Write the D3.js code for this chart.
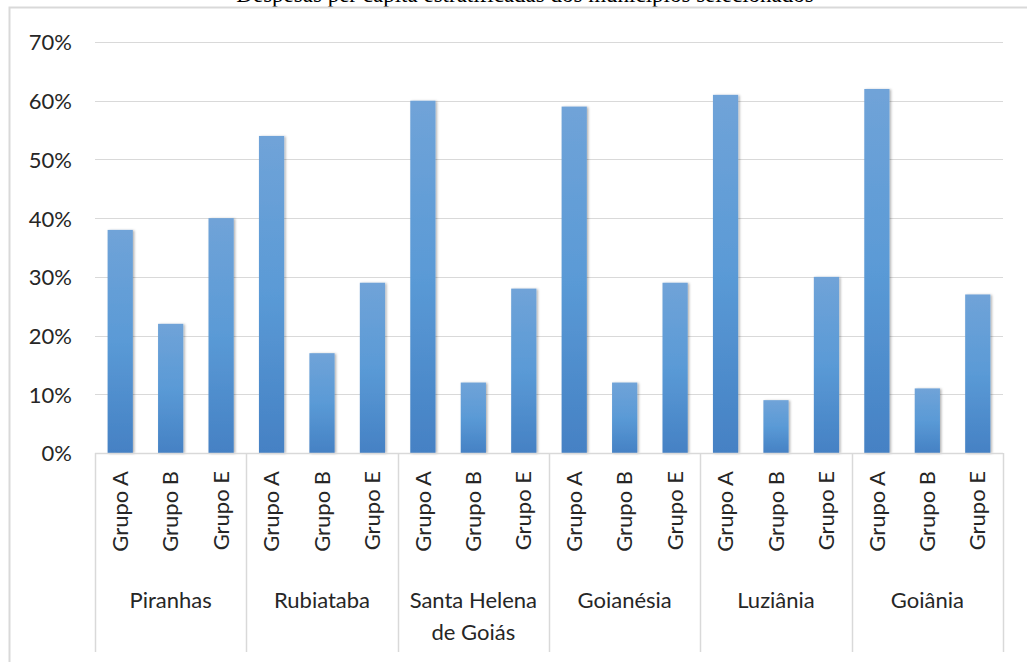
<!DOCTYPE html>
<html>
<head>
<meta charset="utf-8">
<script src="https://d3js.org/d3.v7.min.js"></script>
<style>
body, html {
    margin: 0;
    padding: 0;
    background: #fff;
    font-family: Lato, "Open Sans", sans-serif;
}
.grid line {
  stroke: #d9d9d9;
  stroke-width: 1;
}
.axis text {
  fill: #262626;
}
</style>
</head>
<body>
<div id="chart"></div>
<script>

// dados
var cities = ["Piranhas", "Rubiataba", "Santa Helena de Goiás", "Goianésia", "Luziânia", "Goiânia"];
var cityLines = [["Piranhas"], ["Rubiataba"], ["Santa Helena", "de Goiás"], ["Goianésia"], ["Luziânia"], ["Goiânia"]];
var groups = ["Grupo A", "Grupo B", "Grupo E"];
var grupoA = [0.38, 0.54, 0.60, 0.59, 0.61, 0.62];
var grupoB = [0.22, 0.17, 0.12, 0.12, 0.09, 0.11];
var grupoE = [0.40, 0.29, 0.28, 0.29, 0.30, 0.27];
var yTicks = [0, 0.1, 0.2, 0.3, 0.4, 0.5, 0.6, 0.7];
var titleText = "Despesas per capita estratificadas dos municípios selecionados";

var width = 1027,
    height = 662,
    margin = {top: 42, right: 24, bottom: 209, left: 95};

var svg = d3.select('#chart').append('svg')
  .attr('width', width)
  .attr('height', height);

// gradiente das barras
var defs = svg.append('defs');
var grad = defs.append('linearGradient')
  .attr('id', 'barGrad')
  .attr('x1', 0).attr('y1', 0).attr('x2', 0).attr('y2', 1);
grad.append('stop').attr('offset', '0%').attr('stop-color', '#70a3d8');
grad.append('stop').attr('offset', '50%').attr('stop-color', '#5a9ad6');
grad.append('stop').attr('offset', '100%').attr('stop-color', '#4581c4');

var shadow = defs.append('filter')
  .attr('id', 'shadow')
  .attr('x', '-20%').attr('y', '-5%').attr('width', '150%').attr('height', '110%');
shadow.append('feDropShadow')
  .attr('dx', 1.5).attr('dy', 0.5).attr('stdDeviation', 1.2)
  .attr('flood-color', '#000').attr('flood-opacity', 0.3);

// titulo cortado no topo (so a parte de baixo aparece, como na imagem)
svg.append('text')
  .attr('x', 525)
  .attr('y', 1.5)
  .attr('text-anchor', 'middle')
  .style('font-family', '"Liberation Serif", "Times New Roman", serif')
  .style('font-size', '23px')
  .style('fill', '#000')
  .text(titleText);

// moldura do grafico
svg.append('path')
  .attr('d', 'M9.5,' + height + 'V7.5H' + width)
  .attr('fill', 'none')
  .attr('stroke', '#d9d9d9')
  .attr('stroke-width', 2);

var x0 = d3.scaleBand()
  .domain(cities)
  .range([margin.left, width - margin.right]);

var x1 = d3.scaleBand()
  .domain(groups)
  .range([0, x0.bandwidth()])
  .paddingInner(0.5)
  .paddingOuter(0.25);

var y = d3.scaleLinear()
  .domain([0, 0.7])
  .range([height - margin.bottom, margin.top]);

// linhas de grade
svg.append('g')
  .attr('class', 'grid')
  .selectAll('line')
  .data(yTicks)
  .enter().append('line')
  .attr('x1', margin.left)
  .attr('x2', width - margin.right)
  .attr('y1', function(d) { return Math.round(y(d)) + 0.5; })
  .attr('y2', function(d) { return Math.round(y(d)) + 0.5; });

// eixo y
var yAxis = svg.append('g')
  .attr('class', 'axis')
  .attr('transform', 'translate(' + (margin.left - 23) + ',0)')
  .call(d3.axisLeft(y).tickValues(yTicks).tickFormat(d3.format('.0%')).tickSize(0).tickPadding(0));
yAxis.select('.domain').remove();
yAxis.selectAll('text')
  .style('font-family', 'Lato, "Open Sans", sans-serif')
  .style('font-size', '22px')
  .attr('dy', '0.36em');

// barras
var series = [grupoA, grupoB, grupoE];
var cityG = svg.append('g').selectAll('g')
  .data(cities)
  .enter().append('g')
  .attr('transform', function(d) { return 'translate(' + x0(d) + ',0)'; });

cityG.selectAll('rect')
  .data(function(d, i) {
    return groups.map(function(g, j) { return {group: g, value: series[j][i]}; });
  })
  .enter().append('rect')
  .attr('x', function(d) { return x1(d.group); })
  .attr('y', function(d) { return y(d.value); })
  .attr('width', x1.bandwidth())
  .attr('height', function(d) { return y(0) - y(d.value); })
  .attr('fill', 'url(#barGrad)')
  .attr('filter', 'url(#shadow)');

// eixo x (linha de base e separadores)
var axisBottom = height - 10;
svg.append('line')
  .attr('x1', margin.left).attr('x2', width - margin.right)
  .attr('y1', y(0) + 0.5).attr('y2', y(0) + 0.5)
  .attr('stroke', '#d9d9d9').attr('stroke-width', 1.5);

var seps = cities.map(function(c) { return x0(c); }).concat([x0.range()[1]]);
svg.append('g').selectAll('line')
  .data(seps)
  .enter().append('line')
  .attr('x1', function(d) { return Math.round(d) + 0.5; })
  .attr('x2', function(d) { return Math.round(d) + 0.5; })
  .attr('y1', y(0))
  .attr('y2', axisBottom)
  .attr('stroke', '#d9d9d9')
  .attr('stroke-width', 1.5);

// rotulos dos grupos (rotacionados)
cityG.selectAll('text.grp')
  .data(groups)
  .enter().append('text')
  .attr('class', 'grp')
  .attr('transform', function(d) {
    return 'translate(' + (x1(d) + x1.bandwidth() / 2) + ',' + (y(0) + 18) + ') rotate(-90)';
  })
  .attr('text-anchor', 'end')
  .attr('dy', '0.35em')
  .style('font-size', '22px')
  .style('fill', '#262626')
  .text(function(d) { return d; });

// rotulos dos municipios
cityG.append('text')
  .attr('text-anchor', 'middle')
  .style('font-size', '22px')
  .style('fill', '#262626')
  .selectAll('tspan')
  .data(function(d, i) { return cityLines[i]; })
  .enter().append('tspan')
  .attr('x', x0.bandwidth() / 2)
  .attr('y', function(d, i) { return 608 + i * 32; })
  .text(function(d) { return d; });

</script>
</body>
</html>
